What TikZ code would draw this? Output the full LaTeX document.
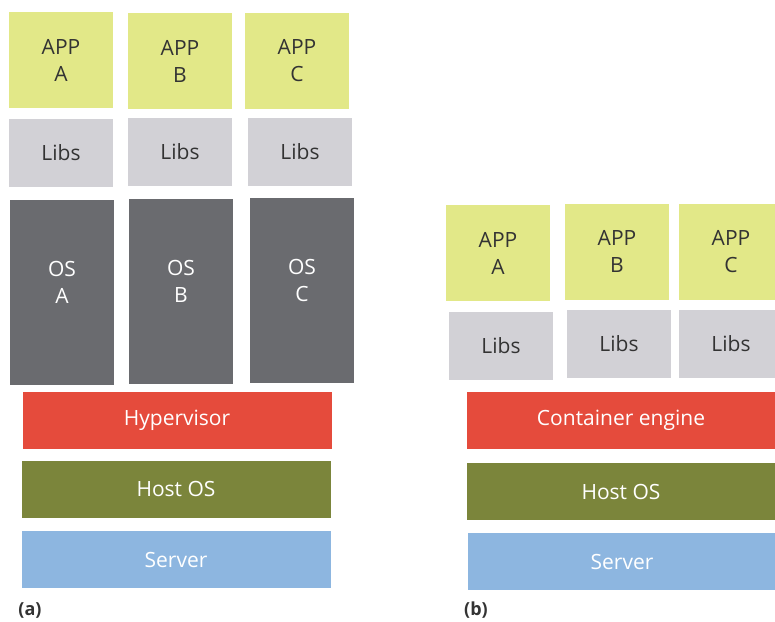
\documentclass[tikz,border=0pt]{standalone}
\usepackage{fontspec}
\setmainfont{Open Sans}
\usepackage{xcolor}

\definecolor{appcol}{HTML}{E2E888}
\definecolor{libcol}{HTML}{D2D1D6}
\definecolor{oscol}{HTML}{6A6B6F}
\definecolor{hypcol}{HTML}{E54B3C}
\definecolor{hostcol}{HTML}{7B853B}
\definecolor{servcol}{HTML}{8DB6E0}
\definecolor{txtcol}{HTML}{333333}

\begin{document}
\begin{tikzpicture}[x=1pt,y=-1pt,
    layer/.style={rectangle, inner sep=0pt, align=center,
        font=\fontsize{21}{27}\selectfont},
    app/.style={layer, fill=appcol, text=txtcol, minimum width=104pt, minimum height=96pt},
    libs/.style={layer, fill=libcol, text=txtcol, minimum width=104pt, minimum height=68pt},
    guestos/.style={layer, fill=oscol, text=white, text depth=20pt, minimum width=104pt, minimum height=185pt},
    bar/.style={layer, text=white, minimum width=309pt, minimum height=57pt},
    caption/.style={font=\fontsize{18}{21}\selectfont\bfseries, text=txtcol}]
            \useasboundingbox (0,0) rectangle (775,621);
            \clip (0,0) rectangle (775,621);
            % (a) virtual machines
            \node[app] (appA) at (61,60) {APP\\A};
            \node[app] (appB) at (180,61) {APP\\B};
            \node[app] (appC) at (297,61) {APP\\C};
            \node[libs] (libA) at (61,152.5) {Libs};
            \node[libs] (libB) at (180,151.5) {Libs};
            \node[libs] (libC) at (300,151.5) {Libs};
            \node[guestos] (osA) at (62,292) {OS\\A};
            \node[guestos] (osB) at (181,291.5) {OS\\B};
            \node[guestos] (osC) at (302,290.5) {OS\\C};
            \node[bar, fill=hypcol] (hyper) at (177,420.5) {Hypervisor};
            \node[bar, fill=hostcol] (hostA) at (176,489) {Host OS};
            \node[bar, fill=servcol] (servA) at (176,559.5) {Server};
            \node[caption] (capA) at (30,610) {(a)};
            % (b) containers
            \node[app] (cappA) at (498,253) {APP\\A};
            \node[app] (cappB) at (617,251.5) {APP\\B};
            \node[app] (cappC) at (731,251.5) {APP\\C};
            \node[libs] (clibA) at (501,346) {Libs};
            \node[libs] (clibB) at (619,344) {Libs};
            \node[libs] (clibC) at (731,344) {Libs};
            \node[bar, fill=hypcol] (engine) at (621,420.5) {Container engine};
            \node[bar, fill=hostcol] (hostB) at (621,491.5) {Host OS};
            \node[bar, fill=servcol] (servB) at (622,561.5) {Server};
            \node[caption] (capB) at (476,610) {(b)};
        \end{tikzpicture}
\end{document}
